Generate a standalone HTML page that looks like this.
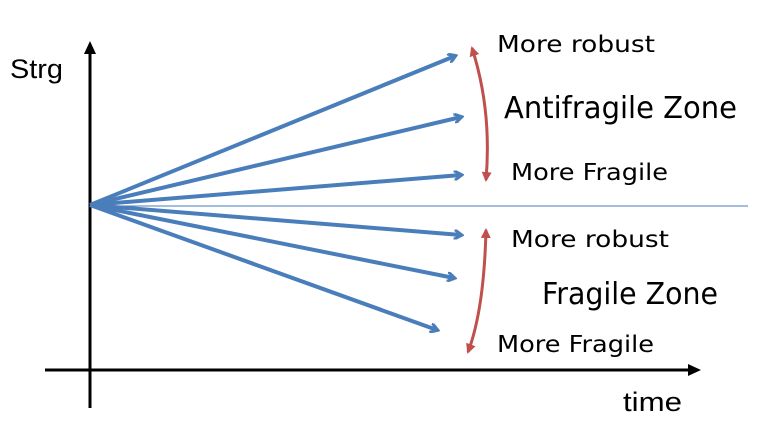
<!DOCTYPE html>
<html><head><style>body{margin:0;background:#fff}svg{display:block}</style></head>
<body>
<svg width="768" height="441" viewBox="0 0 768 441" xmlns="http://www.w3.org/2000/svg">
<defs>
<marker id="b" markerWidth="10" markerHeight="10" refX="7" refY="5" orient="auto" markerUnits="userSpaceOnUse"><path d="M0,0 L8,5 L0,10" fill="none" stroke="#4a7ebb" stroke-width="3"/></marker>
<marker id="r" markerWidth="12" markerHeight="12" refX="8" refY="5" orient="auto-start-reverse" markerUnits="userSpaceOnUse"><path d="M0,0 L10,5 L0,10 Z" fill="#c0504d"/></marker>
</defs>
<line x1="90" y1="408" x2="90" y2="52" stroke="#000" stroke-width="3"/>
<path d="M84,54 L90,41 L96,54 Z" fill="#000"/>
<line x1="45" y1="370" x2="690" y2="370" stroke="#000" stroke-width="3"/>
<path d="M688,364 L701,370 L688,376 Z" fill="#000"/>
<line x1="90" y1="206" x2="748" y2="206" stroke="#4a7ebb" stroke-width="1"/>
<g stroke="#4a7ebb" stroke-width="4" fill="none" marker-end="url(#b)">
<line x1="90" y1="205" x2="455" y2="56"/>
<line x1="90" y1="205" x2="461" y2="117"/>
<line x1="90" y1="205" x2="461" y2="175"/>
<line x1="90" y1="205" x2="461" y2="235"/>
<line x1="90" y1="205" x2="454" y2="278"/>
<line x1="90" y1="205" x2="437" y2="330"/>
</g>
<g stroke="#c0504d" stroke-width="3" fill="none">
<path d="M472,48 Q492,110 486,180" marker-end="url(#r)" marker-start="url(#r)"/>
<path d="M486,230 Q484,310 468,352" marker-end="url(#r)" marker-start="url(#r)"/>
</g>
<g font-family="Liberation Sans, sans-serif" fill="#000">
<text x="10" y="78" font-size="27" textLength="53" lengthAdjust="spacingAndGlyphs">Strg</text>
<text x="623" y="411" font-size="27" textLength="59" lengthAdjust="spacingAndGlyphs">time</text>
</g>
<g font-family="DejaVu Sans, Liberation Sans, sans-serif" fill="#000">
<text x="497" y="52" font-size="23" textLength="158" lengthAdjust="spacingAndGlyphs">More robust</text>
<text x="504" y="118" font-size="30" textLength="233" lengthAdjust="spacingAndGlyphs">Antifragile Zone</text>
<text x="511" y="180" font-size="23" textLength="157" lengthAdjust="spacingAndGlyphs">More Fragile</text>
<text x="511" y="247" font-size="23" textLength="158" lengthAdjust="spacingAndGlyphs">More robust</text>
<text x="542" y="304" font-size="30" textLength="176" lengthAdjust="spacingAndGlyphs">Fragile Zone</text>
<text x="497" y="352" font-size="23" textLength="157" lengthAdjust="spacingAndGlyphs">More Fragile</text>
</g>
</svg>
</body></html>
